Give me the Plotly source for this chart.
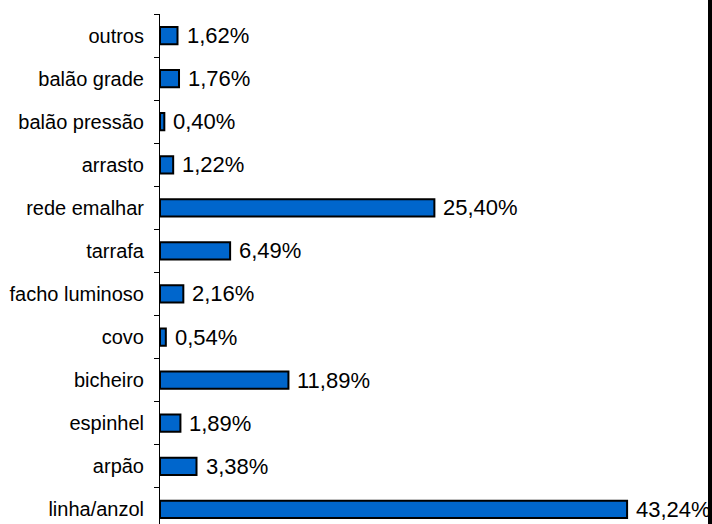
import plotly.graph_objects as go

categories = ["linha/anzol", "arpão", "espinhel", "bicheiro", "covo", "facho luminoso",
              "tarrafa", "rede emalhar", "arrasto", "balão pressão", "balão grade", "outros"]
values = [43.24, 3.38, 1.89, 11.89, 0.54, 2.16, 6.49, 25.40, 1.22, 0.40, 1.76, 1.62]
labels = [f"{v:.2f}".replace(".", ",") + "%" for v in values]

FONT = "Liberation Sans, Arial, sans-serif"

fig = go.Figure(go.Bar(
    y=categories, x=values, orientation="h",
    marker=dict(color="#0066CC", line=dict(color="black", width=2)),
    width=0.4,
))

annotations = [dict(x=v, y=c, xref="x", yref="y", text=t, showarrow=False,
                    xanchor="left", yanchor="middle", xshift=7,
                    font=dict(family=FONT, size=22, color="black"))
               for c, v, t in zip(categories, values, labels)]

fig.update_layout(
    width=712, height=524,
    margin=dict(l=160, r=0, t=14, b=0, autoexpand=False),
    paper_bgcolor="white", plot_bgcolor="white",
    showlegend=False,
    font=dict(family=FONT, size=20, color="black"),
    xaxis=dict(range=[0, 51.1], visible=False, showgrid=False, zeroline=False,
               automargin=False),
    yaxis=dict(categoryorder="array", categoryarray=categories, range=[-0.34, 11.5],
               showline=True, linecolor="black", linewidth=1,
               ticks="outside", ticklen=5, tickcolor="black", tickson="boundaries",
               ticklabelstandoff=11, showgrid=False, zeroline=False, automargin=False),
    annotations=annotations,
)

fig.write_html(
    "out.html",
    config={"displayModeBar": False},
    post_script=(
        "document.body.style.margin='0';document.body.style.overflow='hidden';"
        "var b=document.createElement('div');"
        "b.style.cssText='position:fixed;top:0;left:708px;width:10px;height:100%;background:#000;z-index:10';"
        "document.body.appendChild(b);"
    ),
)
